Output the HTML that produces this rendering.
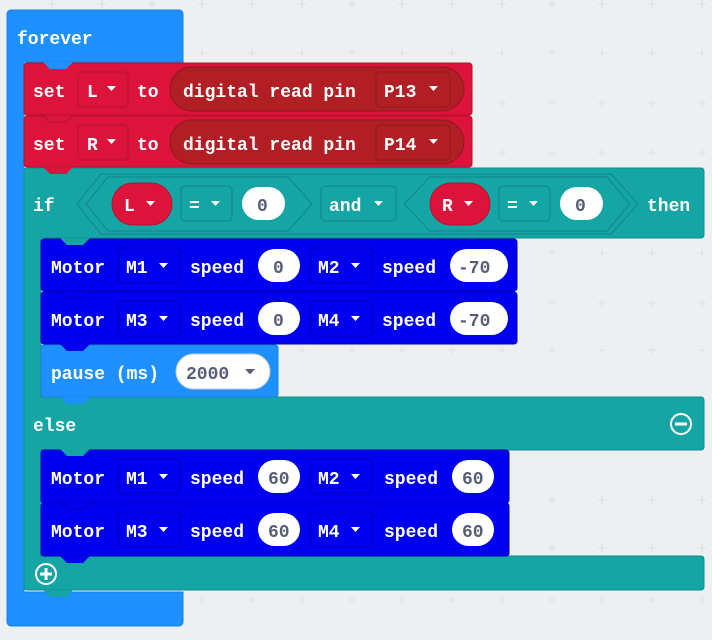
<!DOCTYPE html>
<html><head><meta charset="utf-8"><style>
html,body{margin:0;padding:0;background:#ecf0f1;}
svg{display:block}
text{font-family:"Liberation Mono",monospace;font-weight:bold;font-size:18px;fill:#fff;}
.d{fill:#575e75}
</style></head><body>
<svg width="712" height="640" viewBox="0 0 712 640" xmlns="http://www.w3.org/2000/svg">
<rect width="712" height="640" fill="#ecf0f1"/>
<g stroke="#dde1e3" stroke-width="1">
<path d="M52 0v8M102 0v8M152 0v8M202 0v8M252 0v8M302 0v8M352 0v8M402 0v8M452 0v8M502 0v8M552 0v8M602 0v8M652 0v8M702 0v8
M48 4h8M98 4h8M148 4h8M198 4h8M248 4h8M298 4h8M348 4h8M398 4h8M448 4h8M498 4h8M548 4h8M598 4h8M648 4h8M698 4h8"/>
<path d="M202 49v8M252 49v8M302 49v8M352 49v8M402 49v8M452 49v8M502 49v8M552 49v8M602 49v8M652 49v8M702 49v8
M198 53h8M248 53h8M298 53h8M348 53h8M398 53h8M448 53h8M498 53h8M548 53h8M598 53h8M648 53h8M698 53h8"/>
<path d="M502 99v8M552 99v8M602 99v8M652 99v8M702 99v8M498 103h8M548 103h8M598 103h8M648 103h8M698 103h8"/>
<path d="M502 149v8M552 149v8M602 149v8M652 149v8M702 149v8M498 153h8M548 153h8M598 153h8M648 153h8M698 153h8"/>
<path d="M552 249v8M602 249v8M652 249v8M702 249v8M548 253h8M598 253h8M648 253h8M698 253h8"/>
<path d="M552 299v8M602 299v8M652 299v8M702 299v8M548 303h8M598 303h8M648 303h8M698 303h8"/>
<path d="M302 346v8M352 346v8M402 346v8M452 346v8M502 346v8M552 346v8M602 346v8M652 346v8M702 346v8M298 350h8M348 350h8M398 350h8M448 350h8M498 350h8M548 350h8M598 350h8M648 350h8M698 350h8"/>
<path d="M552 496v8M602 496v8M652 496v8M702 496v8M548 500h8M598 500h8M648 500h8M698 500h8"/>
<path d="M552 544v8M602 544v8M652 544v8M702 544v8M548 548h8M598 548h8M648 548h8M698 548h8"/>
<path d="M202 596v8M252 596v8M302 596v8M352 596v8M402 596v8M452 596v8M502 596v8M552 596v8M602 596v8M652 596v8M702 596v8M198 600h8M248 600h8M298 600h8M348 600h8M398 600h8M448 600h8M498 600h8M548 600h8M598 600h8M648 600h8M698 600h8"/>
</g>

<!-- forever -->
<path d="M11 10h168a4 4 0 0 1 4 4v48h-159v530h159v30a4 4 0 0 1 -4 4h-168a4 4 0 0 1 -4 -4v-608a4 4 0 0 1 4 -4z" fill="#1e90ff" stroke="#1a7fe0" stroke-width="1"/>
<text x="17" y="44">forever</text>

<!-- set L -->
<rect x="24" y="63" width="448" height="52" rx="3" fill="#dc143c" stroke="#b8102f"/>
<polygon points="43,62 50,69 66,69 73,62" fill="#1e90ff"/>
<rect x="170" y="67" width="294" height="44" rx="22" fill="#b11f24" stroke="#8e181c"/>
<rect x="78" y="72" width="50" height="35" rx="4" fill="none" stroke="#b8102f"/>
<rect x="376" y="72" width="74" height="35" rx="4" fill="none" stroke="#8e181c"/>
<text x="33" y="97">set</text><text x="87" y="97">L</text><path d="M107 86h9l-4.5 5z" fill="#fff"/>
<text x="137" y="97">to</text>
<text x="183" y="97">digital read pin</text>
<text x="384" y="97">P13</text><path d="M429 86h9l-4.5 5z" fill="#fff"/>

<!-- set R -->
<rect x="24" y="116" width="448" height="51" rx="3" fill="#dc143c" stroke="#b8102f"/>
<polygon points="43,115 50,122 66,122 73,115" fill="#dc143c" stroke="#b8102f"/>
<rect x="170" y="120" width="294" height="44" rx="22" fill="#b11f24" stroke="#8e181c"/>
<rect x="78" y="125" width="50" height="35" rx="4" fill="none" stroke="#b8102f"/>
<rect x="376" y="125" width="74" height="35" rx="4" fill="none" stroke="#8e181c"/>
<text x="33" y="150">set</text><text x="87" y="150">R</text><path d="M107 139h9l-4.5 5z" fill="#fff"/>
<text x="137" y="150">to</text>
<text x="183" y="150">digital read pin</text>
<text x="384" y="150">P14</text><path d="M429 139h9l-4.5 5z" fill="#fff"/>

<!-- if block -->
<path d="M27 168h674a3 3 0 0 1 3 3v64a3 3 0 0 1 -3 3h-660v159h660a3 3 0 0 1 3 3v47a3 3 0 0 1 -3 3h-660v106h660a3 3 0 0 1 3 3v28a3 3 0 0 1 -3 3h-674a3 3 0 0 1 -3 -3v-416a3 3 0 0 1 3 -3z" fill="#16a5a5" stroke="#128a8a"/>
<polygon points="43,167 50,174 66,174 73,167" fill="#dc143c"/>
<text x="33" y="211">if</text>
<polygon points="77,204 101,174 611,174 638,204 611,234 101,234" fill="#16a5a5" stroke="#118585"/>
<polygon points="86,204 108,177 288,177 312,204 288,231 108,231" fill="#16a5a5" stroke="#118585"/>
<polygon points="404,204 430,177 607,177 630,204 607,231 430,231" fill="#16a5a5" stroke="#118585"/>
<rect x="112" y="183" width="60" height="42" rx="21" fill="#dc143c" stroke="#b8102f"/>
<text x="124" y="211">L</text><path d="M146 201h9l-4.5 5z" fill="#fff"/>
<rect x="181" y="186" width="51" height="35" rx="4" fill="none" stroke="#118585"/>
<text x="189" y="211">=</text><path d="M211 201h9l-4.5 5z" fill="#fff"/>
<rect x="242" y="187" width="43" height="33" rx="16.5" fill="#fff"/>
<text x="257" y="211" class="d">0</text>
<rect x="321" y="186" width="75" height="35" rx="4" fill="none" stroke="#118585"/>
<text x="329" y="211">and</text><path d="M374 201h9l-4.5 5z" fill="#fff"/>
<rect x="430" y="183" width="60" height="42" rx="21" fill="#dc143c" stroke="#b8102f"/>
<text x="442" y="211">R</text><path d="M464 201h9l-4.5 5z" fill="#fff"/>
<rect x="499" y="186" width="51" height="35" rx="4" fill="none" stroke="#118585"/>
<text x="507" y="211">=</text><path d="M529 201h9l-4.5 5z" fill="#fff"/>
<rect x="560" y="187" width="43" height="33" rx="16.5" fill="#fff"/>
<text x="575" y="211" class="d">0</text>
<text x="647" y="211">then</text>

<!-- motor rows -->
<rect x="41" y="239" width="476" height="52" rx="3" fill="#0000ee" stroke="#0000c0"/>
<polygon points="60,238 67,245 83,245 90,238" fill="#16a5a5"/>
<rect x="118" y="248" width="62" height="35" rx="4" fill="none" stroke="#0000b0"/>
<rect x="310" y="248" width="62" height="35" rx="4" fill="none" stroke="#0000b0"/>
<rect x="258" y="249" width="42" height="33" rx="16.5" fill="#fff"/>
<rect x="450" y="249" width="58" height="33" rx="16.5" fill="#fff"/>
<text x="51" y="273">Motor</text><text x="126" y="273">M1</text><path d="M159 263h9l-4.5 5z" fill="#fff"/>
<text x="190" y="273">speed</text><text x="273" y="273" class="d">0</text>
<text x="318" y="273">M2</text><path d="M351 263h9l-4.5 5z" fill="#fff"/>
<text x="382" y="273">speed</text><text x="458" y="273" class="d">-70</text>

<rect x="41" y="292" width="476" height="52" rx="3" fill="#0000ee" stroke="#0000c0"/>
<polygon points="60,291 67,298 83,298 90,291" fill="#0000ee" stroke="#0000c0"/>
<rect x="118" y="301" width="62" height="35" rx="4" fill="none" stroke="#0000b0"/>
<rect x="310" y="301" width="62" height="35" rx="4" fill="none" stroke="#0000b0"/>
<rect x="258" y="302" width="42" height="33" rx="16.5" fill="#fff"/>
<rect x="450" y="302" width="58" height="33" rx="16.5" fill="#fff"/>
<text x="51" y="326">Motor</text><text x="126" y="326">M3</text><path d="M159 316h9l-4.5 5z" fill="#fff"/>
<text x="190" y="326">speed</text><text x="273" y="326" class="d">0</text>
<text x="318" y="326">M4</text><path d="M351 316h9l-4.5 5z" fill="#fff"/>
<text x="382" y="326">speed</text><text x="458" y="326" class="d">-70</text>

<!-- pause -->
<rect x="41" y="345" width="237" height="52" rx="3" fill="#1e90ff" stroke="#1a7fe0"/>
<polygon points="60,344 67,351 83,351 90,344" fill="#0000ee"/>
<polygon points="60,397 67,404 83,404 90,397" fill="#1e90ff"/>
<rect x="176" y="354" width="94" height="35" rx="17.5" fill="#fff" stroke="#ccc"/>
<text x="51" y="379">pause (ms)</text>
<text x="186" y="379" class="d">2000</text><path d="M245 369h10l-5 5.5z" fill="#575e75"/>

<text x="33" y="431">else</text>
<circle cx="681" cy="424" r="10" fill="none" stroke="#fff" stroke-width="2"/>
<rect x="675" y="422.5" width="12" height="3" fill="#fff"/>

<!-- else motor rows -->
<rect x="41" y="450" width="468" height="53" rx="3" fill="#0000ee" stroke="#0000c0"/>
<polygon points="60,449 67,456 83,456 90,449" fill="#16a5a5"/>
<rect x="118" y="459" width="62" height="35" rx="4" fill="none" stroke="#0000b0"/>
<rect x="310" y="459" width="62" height="35" rx="4" fill="none" stroke="#0000b0"/>
<rect x="258" y="460" width="42" height="33" rx="16.5" fill="#fff"/>
<rect x="452" y="460" width="42" height="33" rx="16.5" fill="#fff"/>
<text x="51" y="484">Motor</text><text x="126" y="484">M1</text><path d="M159 474h9l-4.5 5z" fill="#fff"/>
<text x="190" y="484">speed</text><text x="268" y="484" class="d">60</text>
<text x="318" y="484">M2</text><path d="M351 474h9l-4.5 5z" fill="#fff"/>
<text x="384" y="484">speed</text><text x="462" y="484" class="d">60</text>

<rect x="41" y="503" width="468" height="53" rx="3" fill="#0000ee" stroke="#0000c0"/>
<polygon points="60,502 67,509 83,509 90,502" fill="#0000ee" stroke="#0000c0"/>
<polygon points="60,556 67,563 83,563 90,556" fill="#0000ee"/>
<rect x="118" y="512" width="62" height="35" rx="4" fill="none" stroke="#0000b0"/>
<rect x="310" y="512" width="62" height="35" rx="4" fill="none" stroke="#0000b0"/>
<rect x="258" y="513" width="42" height="33" rx="16.5" fill="#fff"/>
<rect x="452" y="513" width="42" height="33" rx="16.5" fill="#fff"/>
<text x="51" y="537">Motor</text><text x="126" y="537">M3</text><path d="M159 527h9l-4.5 5z" fill="#fff"/>
<text x="190" y="537">speed</text><text x="268" y="537" class="d">60</text>
<text x="318" y="537">M4</text><path d="M351 527h9l-4.5 5z" fill="#fff"/>
<text x="384" y="537">speed</text><text x="462" y="537" class="d">60</text>

<polygon points="43,590 50,597 66,597 73,590" fill="#16a5a5"/>
<circle cx="46" cy="574" r="10" fill="none" stroke="#fff" stroke-width="2"/>
<rect x="40" y="572.5" width="12" height="3" fill="#fff"/>
<rect x="44.5" y="568" width="3" height="12" fill="#fff"/>
</svg>
</body></html>
